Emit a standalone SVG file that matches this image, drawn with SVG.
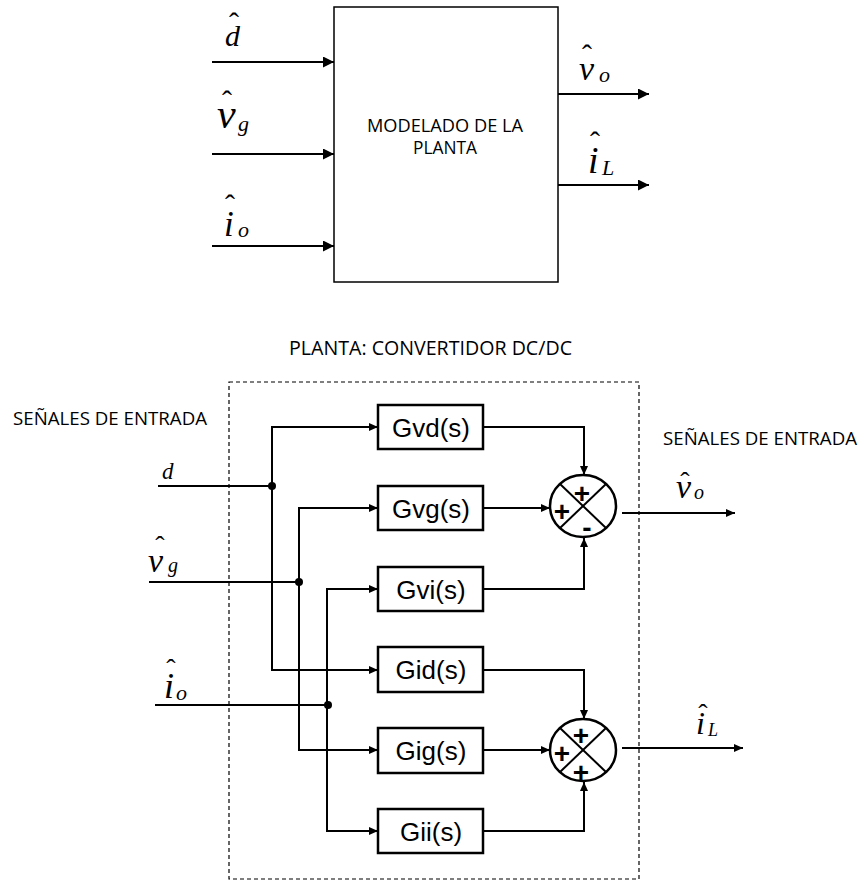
<svg xmlns="http://www.w3.org/2000/svg" width="860" height="882" viewBox="0 0 860 882">
<style>
.ln{fill:none;stroke:#000;stroke-width:2}
.bx{fill:#fff;stroke:#000;stroke-width:2.5}
.tb{fill:#fff;stroke:#000;stroke-width:1.5}
.sum{fill:#fff;stroke:#000;stroke-width:2.5}
.x{stroke:#000;stroke-width:2}
.gt{font-family:"Liberation Sans",Arial,sans-serif;font-size:26px;text-anchor:middle;fill:#000}
.sg{font-family:"Liberation Sans",Arial,sans-serif;font-size:28px;font-weight:bold;text-anchor:middle;fill:#000}
.cap{font-family:"Open Sans","Liberation Sans",sans-serif;fill:#000}
.m{font-family:"Liberation Serif","Times New Roman",serif;font-style:italic;fill:#000}
.hat{font-family:"Liberation Serif","Times New Roman",serif;text-anchor:middle;fill:#000}
</style>
<defs>
<marker id="ahB" viewBox="0 0 11 11" refX="11" refY="5.5" markerWidth="11" markerHeight="11" markerUnits="userSpaceOnUse" orient="auto"><path d="M0,0 L11,5.5 L0,11 z" fill="#000"/></marker>
<marker id="ah" viewBox="0 0 9 8" refX="9" refY="4" markerWidth="9" markerHeight="8" markerUnits="userSpaceOnUse" orient="auto"><path d="M0,0 L9,4 L0,8 z" fill="#000"/></marker>
</defs>
<rect width="860" height="882" fill="#fff"/>

<!-- top diagram -->
<g id="top-block">
<rect class="tb" x="334" y="7" width="224" height="275"/>
<text class="cap" x="445" y="132" font-size="19" text-anchor="middle" textLength="156" lengthAdjust="spacingAndGlyphs">MODELADO DE LA</text>
<text class="cap" x="445" y="154" font-size="19" text-anchor="middle" textLength="64" lengthAdjust="spacingAndGlyphs">PLANTA</text>
</g>
<g id="top-labels">
<text class="m" x="225" y="46" font-size="30">d</text>
<text class="hat" x="234" y="33" font-size="30">ˆ</text>
<text class="m" x="217" y="128" font-size="42">v</text>
<text class="m" x="238" y="131" font-size="22">g</text>
<text class="hat" x="227" y="111" font-size="30">ˆ</text>
<text class="m" x="224" y="236" font-size="35">i</text>
<text class="m" x="238" y="237" font-size="22">o</text>
<text class="hat" x="230" y="215" font-size="30">ˆ</text>
<text class="m" x="579" y="80" font-size="34">v</text>
<text class="m" x="599" y="82" font-size="22">o</text>
<text class="hat" x="587" y="65" font-size="30">ˆ</text>
<text class="m" x="588" y="173" font-size="38">i</text>
<text class="m" x="602" y="175" font-size="22">L</text>
<text class="hat" x="595" y="152" font-size="30">ˆ</text>
</g>
<g id="top-connectors">
<line class="ln" x1="212" y1="62" x2="334" y2="62" marker-end="url(#ahB)"/>
<line class="ln" x1="212" y1="154" x2="334" y2="154" marker-end="url(#ahB)"/>
<line class="ln" x1="212" y1="246" x2="334" y2="246" marker-end="url(#ahB)"/>
<line class="ln" x1="558" y1="94" x2="649" y2="94" marker-end="url(#ahB)"/>
<line class="ln" x1="558" y1="185" x2="649" y2="185" marker-end="url(#ahB)"/>
</g>

<!-- bottom diagram -->
<g id="plant-frame">
<rect x="229" y="382" width="410" height="497" fill="none" stroke="#000" stroke-width="1.2" stroke-dasharray="4,3"/>
<text class="cap" x="430.5" y="355" font-size="20" text-anchor="middle" textLength="283" lengthAdjust="spacingAndGlyphs">PLANTA: CONVERTIDOR DC/DC</text>
<text class="cap" x="13" y="425" font-size="18" textLength="194" lengthAdjust="spacingAndGlyphs">SEÑALES DE ENTRADA</text>
<text class="cap" x="663" y="445" font-size="18" textLength="194" lengthAdjust="spacingAndGlyphs">SEÑALES DE ENTRADA</text>
</g>
<g id="bottom-labels">
<text class="m" x="162" y="479" font-size="23">d</text>
<text class="m" x="148" y="572" font-size="34">v</text>
<text class="m" x="168" y="572" font-size="20">g</text>
<text class="hat" x="160" y="555" font-size="28">ˆ</text>
<text class="m" x="164" y="698" font-size="36">i</text>
<text class="m" x="176" y="700" font-size="22">o</text>
<text class="hat" x="171" y="678" font-size="28">ˆ</text>
<text class="m" x="676" y="498" font-size="34">v</text>
<text class="m" x="694" y="499" font-size="20">o</text>
<text class="hat" x="685" y="491" font-size="28">ˆ</text>
<text class="m" x="696" y="734" font-size="32">i</text>
<text class="m" x="708" y="736" font-size="18">L</text>
<text class="hat" x="703" y="723" font-size="28">ˆ</text>
</g>

<g id="connectors">
<line class="ln" x1="158" y1="486" x2="272" y2="486"/>
<line class="ln" x1="149" y1="582" x2="299" y2="582"/>
<line class="ln" x1="155" y1="705" x2="327" y2="705"/>
<polyline class="ln" points="378,427 272,427 272,670 378,670" marker-end="url(#ah)"/>
<line class="ln" x1="272" y1="427" x2="378" y2="427" marker-end="url(#ah)"/>
<polyline class="ln" points="378,508 299,508 299,750 378,750" marker-end="url(#ah)"/>
<line class="ln" x1="299" y1="508" x2="378" y2="508" marker-end="url(#ah)"/>
<polyline class="ln" points="378,589 327,589 327,831 378,831" marker-end="url(#ah)"/>
<line class="ln" x1="327" y1="589" x2="378" y2="589" marker-end="url(#ah)"/>
<circle cx="272" cy="486" r="4" fill="#000"/>
<circle cx="299" cy="582" r="4" fill="#000"/>
<circle cx="328" cy="705" r="4" fill="#000"/>
<polyline class="ln" points="483,427 584,427 584,475" marker-end="url(#ah)"/>
<line class="ln" x1="483" y1="508" x2="550" y2="508" marker-end="url(#ah)"/>
<polyline class="ln" points="483,589 584,589 584,538" marker-end="url(#ah)"/>
<line class="ln" x1="622" y1="513" x2="735" y2="513" marker-end="url(#ah)"/>
<polyline class="ln" points="483,670 584,670 584,719" marker-end="url(#ah)"/>
<line class="ln" x1="483" y1="750" x2="550" y2="750" marker-end="url(#ah)"/>
<polyline class="ln" points="483,831 584,831 584,782" marker-end="url(#ah)"/>
<line class="ln" x1="622" y1="748" x2="743" y2="748" marker-end="url(#ah)"/>
</g>

<g id="Gvd"><rect class="bx" x="378" y="405" width="105" height="44"/><text class="gt" x="431" y="436.5">Gvd(s)</text></g>
<g id="Gvg"><rect class="bx" x="378" y="486" width="105" height="44"/><text class="gt" x="431" y="517.5">Gvg(s)</text></g>
<g id="Gvi"><rect class="bx" x="378" y="567" width="105" height="44"/><text class="gt" x="431" y="598.5">Gvi(s)</text></g>
<g id="Gid"><rect class="bx" x="378" y="647" width="105" height="45"/><text class="gt" x="431" y="679">Gid(s)</text></g>
<g id="Gig"><rect class="bx" x="378" y="728" width="105" height="45"/><text class="gt" x="431" y="760">Gig(s)</text></g>
<g id="Gii"><rect class="bx" x="378" y="809" width="105" height="44"/><text class="gt" x="431" y="840.5">Gii(s)</text></g>

<g id="sum1">
<ellipse class="sum" cx="583" cy="506" rx="33" ry="31"/>
<line class="x" x1="560" y1="484" x2="606" y2="528"/>
<line class="x" x1="606" y1="484" x2="560" y2="528"/>
<text class="sg" x="582" y="503">+</text>
<text class="sg" x="562" y="521">+</text>
<text class="sg" x="587" y="537">-</text>
</g>
<g id="sum2">
<ellipse class="sum" cx="583" cy="750" rx="33" ry="31"/>
<line class="x" x1="560" y1="728" x2="606" y2="772"/>
<line class="x" x1="606" y1="728" x2="560" y2="772"/>
<text class="sg" x="581" y="745">+</text>
<text class="sg" x="562" y="763">+</text>
<text class="sg" x="581" y="782">+</text>
</g>
</svg>
